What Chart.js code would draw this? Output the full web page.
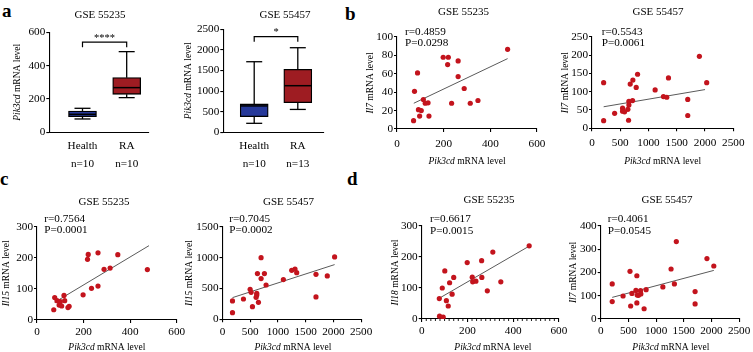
<!DOCTYPE html>
<html><head><meta charset="utf-8">
<script src="https://cdn.jsdelivr.net/npm/chart.js@4.4.1/dist/chart.umd.min.js"></script>
<style>
html,body{margin:0;padding:0;background:#fff;}
#fig{position:relative;width:753px;height:352px;overflow:hidden;background:#fff;}
#fig canvas{position:absolute;}
.lab{position:absolute;font:bold 19px "Liberation Serif","Times New Roman",serif;color:#000;line-height:19px;}
</style></head><body>
<div id="fig">
  <div class="lab" style="left:2px;top:1px">a</div>
  <div class="lab" style="left:345px;top:4px">b</div>
  <div class="lab" style="left:0px;top:169px">c</div>
  <div class="lab" style="left:347px;top:169px">d</div>
</div>
<script>
// ================= DATA =================
const groupLabels = ['Health', 'RA'];
const groupN_GSE55235 = ['n=10', 'n=10'];
const groupN_GSE55457 = ['n=10', 'n=13'];
// box statistics: [min, Q1, median, Q3, max]
const box_GSE55235_Health = [80, 94, 108, 128, 144];
const box_GSE55235_RA = [208, 228, 268, 328, 484];
const box_GSE55457_Health = [218, 380, 640, 688, 1713];
const box_GSE55457_RA = [555, 720, 1131, 1529, 2053];
const sig_GSE55235 = '****';
const sig_GSE55457 = '*';

const ticksY_a1 = [0, 200, 400, 600];
const ticksY_a2 = [0, 500, 1000, 1500, 2000, 2500];
const ticksX_600 = [0, 200, 400, 600];
const ticksX_2500 = [0, 500, 1000, 1500, 2000, 2500];
const ticksY_b1 = [0, 20, 40, 60, 80, 100];
const ticksY_b2 = [0, 50, 100, 150, 200, 250];
const ticksY_c1 = [0, 100, 200, 300];
const ticksY_c2 = [0, 500, 1000, 1500];
const ticksY_d1 = [0, 100, 200, 300];
const ticksY_d2 = [0, 100, 200, 300, 400];

// b: Il7 vs Pik3cd
const b1_pik3cd = [474,198,220,217,262,262,288,88,75,113,121,133,92,104,97,137,71,234,314,347];
const b1_il7    = [86.6,78,78,70,74,57,44,61,41,32,28,28.5,21,20,14,14,9,28,28,31];
const b1_fitX = [72, 474], b1_fitY = [28, 76.5];
const b1_stats = ['r=0.4859', 'P=0.0298'];

const b2_pik3cd = [1900,2029,206,206,400,806,723,676,782,1353,1117,1264,1323,1694,1694,653,653,718,541,541,576,635,647];
const b2_il7    = [197,125,125,21,41,148,132,121,112,138,105,87,85,79,35,74,64,76,55,47,45,52,22];
const b2_fitX = [206, 2000], b2_fitY = [59, 106];
const b2_stats = ['r=0.5543', 'P=0.0061'];

// c: Il15 vs Pik3cd
const c1_pik3cd = [474,347,262,220,217,288,314,262,234,198,72,76,86,95,100,106,116,119,133,138];
const c1_il15   = [162,210,216,211,195,163,167,109,102,81,33,72,62,48,59,45,79,62,40,44];
const c1_fitX = [76, 481], c1_fitY = [57, 239];
const c1_stats = ['r=0.7564', 'P=0.0001'];

const c2_pik3cd = [180,180,378,498,516,540,606,618,618,648,630,696,696,756,786,1098,1248,1308,1338,1686,1686,1890,2022];
const c2_il15   = [297,108,329,486,437,205,356,394,421,275,740,999,659,740,556,643,794,815,756,729,362,702,1010];
const c2_fitX = [180, 2022], c2_fitY = [351, 886];
const c2_stats = ['r=0.7045', 'P=0.0002'];

// d: Il18 / Il7 vs Pik3cd
const d1_pik3cd = [470,311,262,199,221,223,237,263,287,346,101,140,122,90,133,108,116,77,78,94];
const d1_il18   = [236,216,188,182,135,120,122,134,91,120,155,134,117,100,80,59,42,66,9,6];
const d1_fitX = [77, 470], d1_fitY = [67, 235];
const d1_stats = ['r=0.6617', 'P=0.0015'];

const d2_pik3cd = [208,208,404,529,653,541,564,636,683,653,719,725,784,820,1123,1271,1331,1366,1705,1705,1919,2043,659];
const d2_il7    = [151,75,99,205,186,56,110,123,102,69,122,108,44,126,138,215,151,333,118,65,260,228,103];
const d2_fitX = [208, 2043], d2_fitY = [93, 209];
const d2_stats = ['r=0.4061', 'P=0.0545'];

// ================= STYLE / HELPERS =================
const FONT = '"Liberation Serif", "Times New Roman", serif';
const TICK_SIZE = 11.2, TITLE_SIZE = 11, AXT_SIZE = 9.5;
const BLUE = '#26399a', RED = '#9e1c22', DOT = '#c3141d', FIT = '#5a5a5a';
Chart.defaults.font.family = FONT;
Chart.defaults.color = '#000';

function text(ctx, s, x, y, size, align) {
  ctx.save();
  ctx.font = size + 'px ' + FONT;
  ctx.fillStyle = '#000';
  ctx.textAlign = align || 'center';
  ctx.textBaseline = 'middle';
  ctx.fillText(s, x, y);
  ctx.restore();
}
function mixed(ctx, parts, cx, cy, rotate, size) {
  ctx.save();
  ctx.translate(cx, cy);
  if (rotate) ctx.rotate(-Math.PI / 2);
  const fonts = parts.map(p => (p[1] ? 'italic ' : '') + size + 'px ' + FONT);
  const widths = parts.map((p, i) => { ctx.font = fonts[i]; return ctx.measureText(p[0]).width; });
  let x = -widths.reduce((a, b) => a + b, 0) / 2;
  ctx.fillStyle = '#000'; ctx.textAlign = 'left'; ctx.textBaseline = 'middle';
  parts.forEach((p, i) => { ctx.font = fonts[i]; ctx.fillText(p[0], x, 0); x += widths[i]; });
  ctx.restore();
}
function line(ctx, x1, y1, x2, y2, w) {
  ctx.save(); ctx.strokeStyle = '#000'; ctx.lineWidth = w || 1.3;
  ctx.beginPath(); ctx.moveTo(x1, y1); ctx.lineTo(x2, y2); ctx.stroke(); ctx.restore();
}

function axis(min, max, vals, pad, opts) {
  opts = opts || {};
  return {
    type: 'linear', min: min, max: max, offset: false,
    border: { display: true, color: '#000', width: 1.1 },
    grid: { display: true, drawOnChartArea: false, drawTicks: opts.noTicks ? false : true,
            tickLength: 3, color: '#000', tickColor: '#000', lineWidth: 1.1 },
    ticks: { font: { family: FONT, size: TICK_SIZE, lineHeight: opts.lh || 1.2 }, color: '#000',
             padding: pad, autoSkip: false, maxRotation: 0, minRotation: 0,
             callback: opts.cb || (v => String(v)) },
    afterBuildTicks: s => { s.ticks = vals.map(v => ({ value: v })); },
    title: { display: false }
  };
}

function build(rect, area, type, data, scales, deco) {
  const c = document.createElement('canvas');
  c.width = rect.w; c.height = rect.h;
  c.style.left = rect.x + 'px'; c.style.top = rect.y + 'px';
  c.style.width = rect.w + 'px'; c.style.height = rect.h + 'px';
  document.getElementById('fig').appendChild(c);
  const yW = area.l - rect.x, xH = rect.y + rect.h - area.b;
  scales.x.afterFit = s => { s.height = xH; };
  scales.y.afterFit = s => { s.width = yW; };
  return new Chart(c, {
    type: type, data: data,
    options: {
      responsive: false, animation: false, devicePixelRatio: 1,
      layout: { autoPadding: false, padding: { left: 0, bottom: 0, top: area.t - rect.y, right: rect.x + rect.w - area.r } },
      plugins: { legend: { display: false }, tooltip: { enabled: false }, title: { display: false } },
      scales: scales
    },
    plugins: [{ id: 'deco', afterDatasetsDraw(chart) { deco(chart, chart.ctx, rect); } }]
  });
}

// ================= BOX PLOTS (a) =================
function boxPanel(rect, area, xmin, xmax, ymax, yTicks, stats, nLabels, title, sig, brTop, brTip, yTitleX, titlePos) {
  const data = { datasets: [{
    data: stats.map((s, i) => ({ x: i + 1, y: [s[1], s[3]] })),
    backgroundColor: [BLUE, RED], borderColor: '#000', borderWidth: 1.3, borderSkipped: false,
    barThickness: 28
  }] };
  const scales = {
    x: axis(xmin, xmax, [1, 2], 5, { noTicks: true, lh: 1.62, cb: v => [groupLabels[v - 1], nLabels[v - 1]] }),
    y: axis(0, ymax, yTicks, 1)
  };
  build(rect, area, 'bar', data, scales, (chart, ctx, r) => {
    const xs = chart.scales.x, ys = chart.scales.y;
    stats.forEach((s, i) => {
      const px = xs.getPixelForValue(i + 1);
      const py = v => ys.getPixelForValue(v);
      line(ctx, px, py(s[4]), px, py(s[3]));
      line(ctx, px, py(s[1]), px, py(s[0]));
      line(ctx, px - 8, py(s[4]), px + 8, py(s[4]));
      line(ctx, px - 8, py(s[0]), px + 8, py(s[0]));
      line(ctx, px - 13.5, py(s[2]), px + 13.5, py(s[2]), 1.5);
    });
    const x1 = xs.getPixelForValue(1), x2 = xs.getPixelForValue(2);
    const yt = ys.getPixelForValue(brTop), yb = ys.getPixelForValue(brTip);
    ctx.save(); ctx.strokeStyle = '#000'; ctx.lineWidth = 1.2;
    ctx.beginPath(); ctx.moveTo(x1, yb); ctx.lineTo(x1, yt); ctx.lineTo(x2, yt); ctx.lineTo(x2, yb); ctx.stroke();
    ctx.font = '10.5px ' + FONT; ctx.fillStyle = '#000'; ctx.textAlign = 'center'; ctx.textBaseline = 'alphabetic';
    ctx.fillText(sig, (x1 + x2) / 2, yt - 1.5);
    ctx.restore();
    text(ctx, title, titlePos[0] - r.x, titlePos[1] - r.y, TITLE_SIZE);
    mixed(ctx, [['Pik3cd', true], [' mRNA level', false]], yTitleX - r.x, (area.t + area.b) / 2 - r.y, true, AXT_SIZE);
  });
}

boxPanel({ x: 0, y: 0, w: 175, h: 175 }, { l: 49.3, t: 32.3, r: 148.3, b: 132.3 },
  0.249, 2.489, 600, ticksY_a1, [box_GSE55235_Health, box_GSE55235_RA], groupN_GSE55235,
  'GSE 55235', sig_GSE55235, 541, 511, 17, [100, 15]);
boxPanel({ x: 175, y: 0, w: 170, h: 175 }, { l: 223.3, t: 29.3, r: 323.3, b: 132.3 },
  0.291, 2.585, 2500, ticksY_a2, [box_GSE55457_Health, box_GSE55457_RA], groupN_GSE55457,
  'GSE 55457', sig_GSE55457, 2320, 2199, 188, [285, 15]);

// ================= SCATTER PANELS (b, c, d) =================
function scatterPanel(rect, area, xmax, xTicks, ymax, yTicks, xs, ysv, fitX, fitY, stats, gene, title, titlePos, statPos, yTitleX, xTitleY, xPad, minor) {
  const data = { datasets: [
    { data: xs.map((v, i) => ({ x: v, y: ysv[i] })), backgroundColor: DOT, borderWidth: 0, pointRadius: 2.6, showLine: false },
    { data: fitX.map((v, i) => ({ x: v, y: fitY[i] })), borderColor: FIT, borderWidth: 1, pointRadius: 0, showLine: true, fill: false }
  ] };
  const scales = { x: axis(0, xmax, xTicks, xPad), y: axis(0, ymax, yTicks, 1) };
  build(rect, area, 'scatter', data, scales, (chart, ctx, r) => {
    const sx = chart.scales.x;
    if (minor) {
      for (let v = minor; v < xmax; v += minor) {
        if (xTicks.indexOf(v) >= 0) continue;
        const px = sx.getPixelForValue(v);
        line(ctx, px, chart.chartArea.bottom, px, chart.chartArea.bottom + 2, 0.9);
      }
    }
    text(ctx, title, titlePos[0] - r.x, titlePos[1] - r.y, TITLE_SIZE);
    text(ctx, stats[0], statPos[0] - r.x, statPos[1] - r.y, TICK_SIZE, 'left');
    text(ctx, stats[1], statPos[0] - r.x, statPos[2] - r.y, TICK_SIZE, 'left');
    mixed(ctx, [[gene, true], [' mRNA level', false]], yTitleX - r.x, (area.t + area.b) / 2 - r.y, true, AXT_SIZE);
    mixed(ctx, [['Pik3cd', true], [' mRNA level', false]], (area.l + area.r) / 2 - r.x, xTitleY - r.y, false, AXT_SIZE);
  });
}

scatterPanel({ x: 345, y: 0, w: 215, h: 175 }, { l: 397, t: 37, r: 537, b: 129 },
  600, ticksX_600, 100, ticksY_b1, b1_pik3cd, b1_il7, b1_fitX, b1_fitY, b1_stats, 'Il7',
  'GSE 55235', [463.5, 12.5], [405, 31.7, 42.7], 370, 161, 5, 0);
scatterPanel({ x: 560, y: 0, w: 193, h: 175 }, { l: 592, t: 37, r: 733.3, b: 128.3 },
  2500, ticksX_2500, 250, ticksY_b2, b2_pik3cd, b2_il7, b2_fitX, b2_fitY, b2_stats, 'Il7',
  'GSE 55457', [658, 12.5], [601.7, 31.7, 42.7], 565, 161, 5, 0);
scatterPanel({ x: 0, y: 175, w: 192, h: 177 }, { l: 37, t: 226.7, r: 176.7, b: 320 },
  600, ticksX_600, 300, ticksY_c1, c1_pik3cd, c1_il15, c1_fitX, c1_fitY, c1_stats, 'Il15',
  'GSE 55235', [104, 201.7], [44.3, 219.3, 230], 6, 347.7, 2.7, 0);
scatterPanel({ x: 185, y: 175, w: 190, h: 177 }, { l: 222.5, t: 226.7, r: 363.3, b: 319.3 },
  2500, ticksX_2500, 1500, ticksY_c2, c2_pik3cd, c2_il15, c2_fitX, c2_fitY, c2_stats, 'Il15',
  'GSE 55457', [288.5, 201.7], [229.3, 219.3, 230], 189, 347.7, 2.7, 0);
scatterPanel({ x: 370, y: 175, w: 200, h: 177 }, { l: 421.7, t: 226, r: 564, b: 319 },
  600, ticksX_600, 300, ticksY_d1, d1_pik3cd, d1_il18, d1_fitX, d1_fitY, d1_stats, 'Il18',
  'GSE 55235', [489, 200], [430, 219.3, 231], 395, 347.7, 2.7, 20);
scatterPanel({ x: 560, y: 175, w: 193, h: 177 }, { l: 600.7, t: 226, r: 741, b: 319 },
  2500, ticksX_2500, 400, ticksY_d2, d2_pik3cd, d2_il7, d2_fitX, d2_fitY, d2_stats, 'Il7',
  'GSE 55457', [667, 200], [607.7, 219.3, 231], 573, 347.7, 2.7, 0);
</script>
</body></html>
